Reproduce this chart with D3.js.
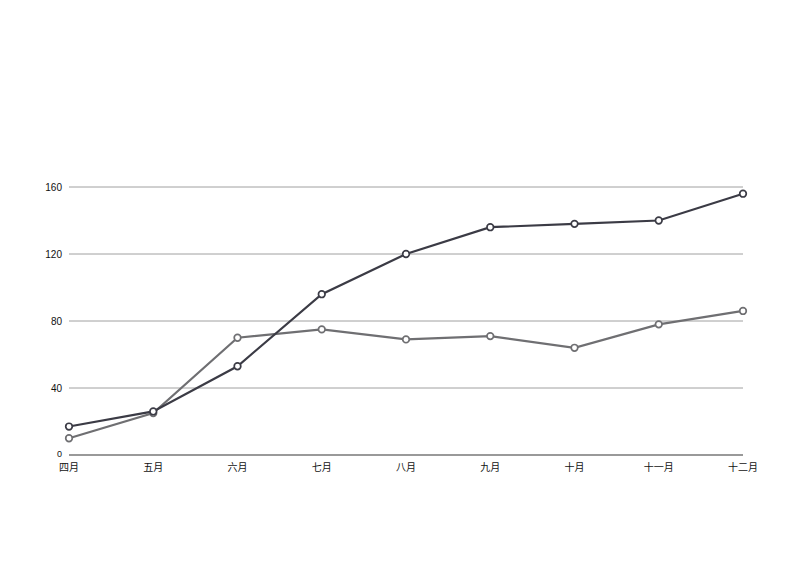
<!DOCTYPE html>
<html>
<head>
<meta charset="utf-8">
<script src="https://cdn.jsdelivr.net/npm/d3@7"></script>
<style>
  body { margin: 0; background: #fff; }
  .chart text { font-family: "Liberation Sans", Arial, "Noto Sans CJK SC", sans-serif; }
</style>
</head>
<body>
<div class="chart"></div>
<script>
var months = ["四月", "五月", "六月", "七月", "八月", "九月", "十月", "十一月", "十二月"];
var darkSeries = [17, 26, 53, 96, 120, 136, 138, 140, 156];
var graySeries = [10, 25, 70, 75, 69, 71, 64, 78, 86];
var yTicks = [0, 40, 80, 120, 160];

const width = 800, height = 584;
const margin = {top: 187, right: 57, bottom: 129, left: 69};

var svg = d3.select(".chart").append("svg")
    .attr("width", width)
    .attr("height", height);

var x = d3.scalePoint()
    .domain(months)
    .range([margin.left, width - margin.right]);

var y = d3.scaleLinear()
    .domain([0, 160])
    .range([height - margin.bottom, margin.top]);

// gridlines
svg.append("g")
    .selectAll("line")
    .data(yTicks.filter(function(d) { return d > 0; }))
    .enter()
    .append("line")
    .attr("x1", margin.left)
    .attr("x2", width - margin.right)
    .attr("y1", function(d) { return y(d); })
    .attr("y2", function(d) { return y(d); })
    .attr("stroke", "#a0a0a0")
    .attr("stroke-width", 1);

// baseline
svg.append("line")
    .attr("x1", margin.left)
    .attr("x2", width - margin.right)
    .attr("y1", y(0))
    .attr("y2", y(0))
    .attr("stroke", "#777")
    .attr("stroke-width", 1.5);

// y labels
svg.append("g")
    .selectAll("text")
    .data(yTicks)
    .enter()
    .append("text")
    .attr("x", 62)
    .attr("y", function(d) { return d === 0 ? y(d) + 2 : y(d) + 3.5; })
    .attr("text-anchor", "end")
    .style("font-size", function(d) { return d === 0 ? "9px" : "10px"; })
    .style("fill", "#111")
    .text(function(d) { return d; });

// x labels
svg.append("g")
    .selectAll("text")
    .data(months)
    .enter()
    .append("text")
    .attr("x", function(d) { return x(d); })
    .attr("y", 471)
    .attr("text-anchor", "middle")
    .style("font-size", "10px")
    .style("font-family", "'Noto Sans CJK SC', sans-serif")
    .style("fill", "#111")
    .text(function(d) { return d; });

var line = d3.line()
    .x(function(d, i) { return x(months[i]); })
    .y(function(d) { return y(d); });

function drawSeries(values, color) {
    svg.append("path")
        .datum(values)
        .attr("fill", "none")
        .attr("stroke", color)
        .attr("stroke-width", 2.2)
        .attr("d", line);

    svg.append("g")
        .selectAll("circle")
        .data(values)
        .enter()
        .append("circle")
        .attr("cx", function(d, i) { return x(months[i]); })
        .attr("cy", function(d) { return y(d); })
        .attr("r", 3.3)
        .style("fill", "#fff")
        .style("stroke", color)
        .style("stroke-width", 1.7);
}

drawSeries(graySeries, "#6f6f72");
drawSeries(darkSeries, "#3b3b45");
</script>
</body>
</html>
